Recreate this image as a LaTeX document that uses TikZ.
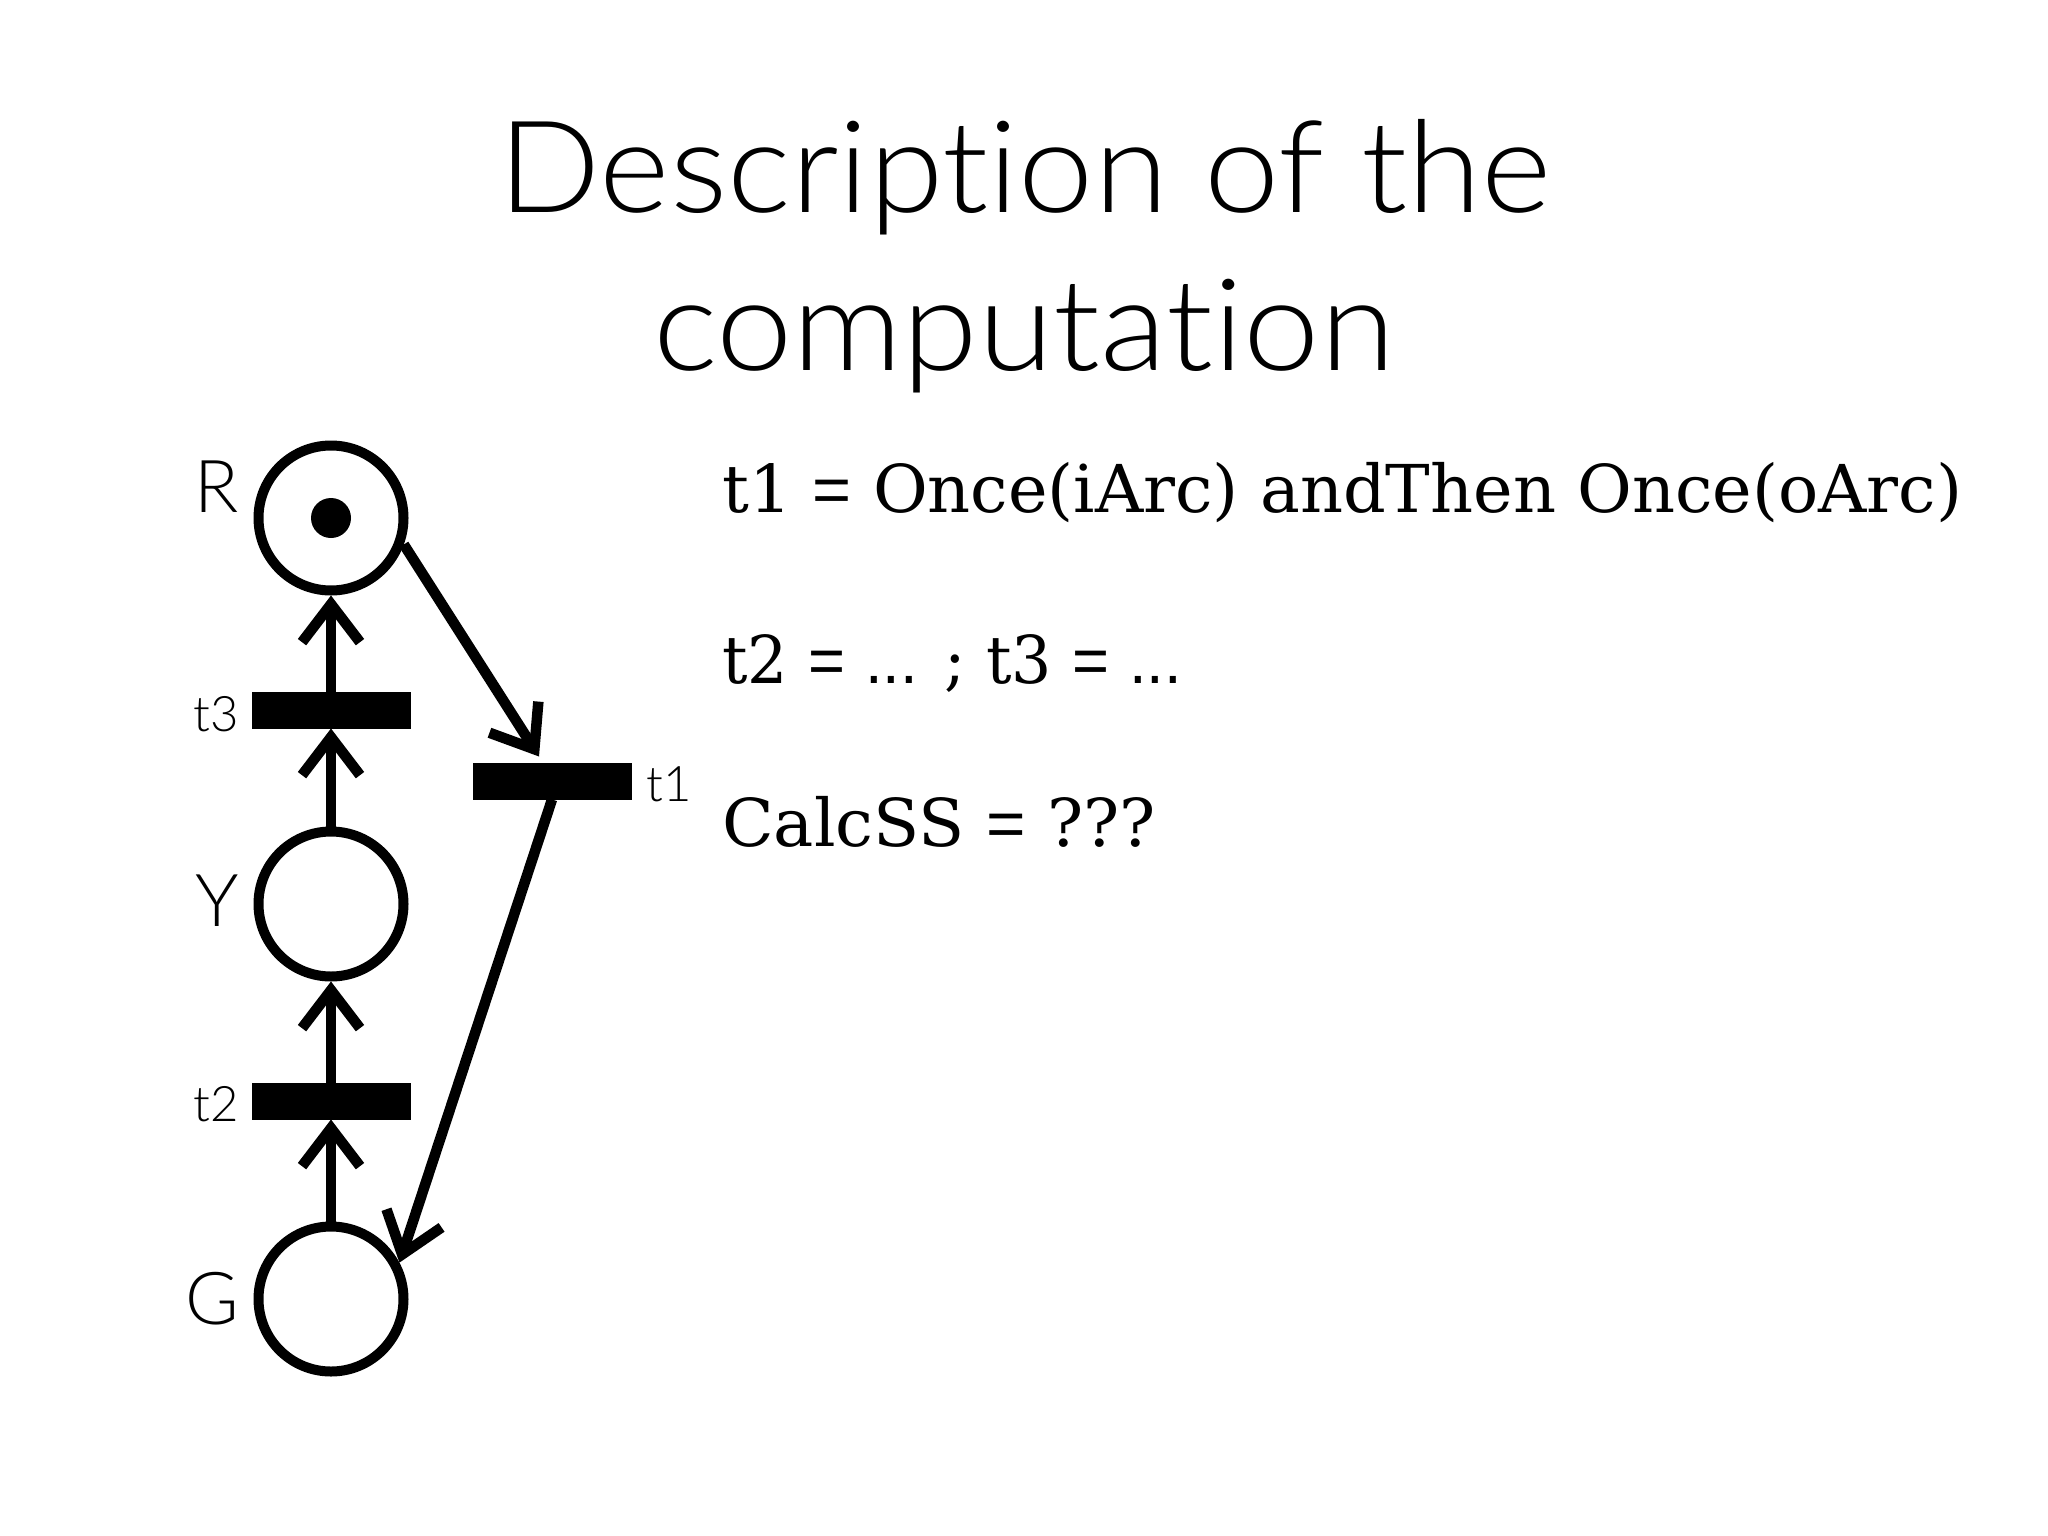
\documentclass[tikz,border=0pt]{standalone}
\usepackage{fontspec}
\usepackage{graphicx}
\setmainfont{Liberation Sans}
\newfontfamily\lightfont[Ligatures=NoCommon]{Lato Light}
\newfontfamily\codefont{DejaVu Serif}
\usetikzlibrary{arrows.meta,calc}
\newcommand{\eqs}{{\rmfamily=}}
\newcommand{\mydots}{{\rmfamily...}}
\begin{document}
\begin{tikzpicture}[x=1pt,y=-1pt,
 place/.style={circle,draw,line width=10pt,minimum size=145pt,inner sep=0pt},
 token/.style={circle,fill,minimum size=40pt,inner sep=0pt},
 trans/.style={rectangle,fill,minimum width=159pt,minimum height=37pt,inner sep=0pt,outer sep=0pt},
 arc/.style={line width=10.5pt,-{Straight Barb[length=38pt,width=58pt]}},
 lbl/.style={font=\fontsize{73}{80}\lightfont,inner sep=0pt},
 tlbl/.style={font=\fontsize{49}{55}\lightfont,inner sep=0pt},
 title/.style={font=\fontsize{128}{140}\lightfont,inner sep=0pt,anchor=base},
 code/.style={inner sep=0pt,anchor=base west,font=\fontsize{66}{80}\codefont}
]
\useasboundingbox[fill=white] (0,0) rectangle (2048,1536);

% title
\node[title] (title1) at (1025,212) {\resizebox{1053pt}{\height}{Description of the}};
\node[title] (title2) at (1024,370) {\resizebox{742pt}{\height}{computation}};

% places
\node[place] (R) at (331,518) {};
\node[token] (Rtok) at (R.center) {};
\node[place] (Y) at (331,904) {};
\node[place] (G) at (331,1299) {};

% transitions
\node[trans] (t3) at (331,710) {};
\node[trans] (t2) at (331,1101) {};
\node[trans] (t1) at (552,781) {};

% labels
\node[lbl,anchor=east] (lR) at (239,487) {R};
\node[lbl,anchor=east] (lY) at (239,901) {Y};
\node[lbl,anchor=east] (lG) at (239,1299) {G};
\node[tlbl,anchor=east] (l3) at (239,714) {t3};
\node[tlbl,anchor=east] (l2) at (239,1104) {t2};
\node[tlbl,anchor=west] (l1) at (646,784) {t1};

% arcs
\draw[arc] (G) -- (t2);
\draw[arc] (t2) -- (Y);
\draw[arc] (Y) -- (t3);
\draw[arc] (t3) -- (R);
\draw[arc] (R.-20) -- ([xshift=-13pt,yshift=6pt]t1.north);
\draw[arc] (t1.south) -- (G.28);

% code text
\node[code] (c1) at (722,512) {\resizebox{1240pt}{\height}{t1 \eqs{} Once(iArc) andThen Once(oArc)}};
\node[code] (c2) at (722,683) {\resizebox{460pt}{\height}{t2 \eqs{} \mydots{} ; t3 \eqs{} \mydots}};
\node[code] (c3) at (722,846) {\resizebox{434pt}{\height}{CalcSS \eqs{} ???}};
\end{tikzpicture}
\end{document}
